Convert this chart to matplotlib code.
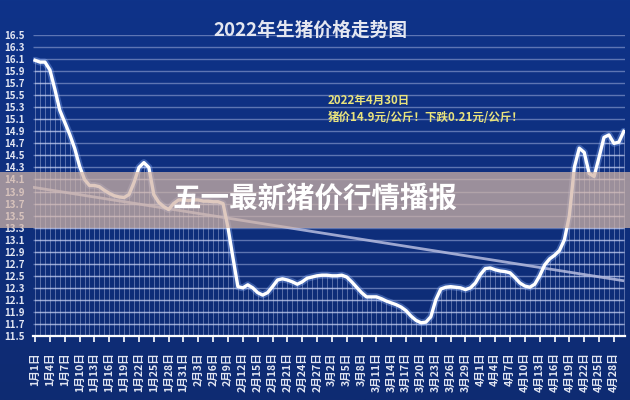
import numpy as np
import matplotlib
matplotlib.use('Agg')
from matplotlib import pyplot as plt
from matplotlib.patches import Rectangle

plt.rcParams['font.family'] = ['Noto Sans CJK SC', 'DejaVu Sans']

# 生猪价格 元/公斤, 1月1日 ~ 4月30日 (每日)
prices = [16.08, 16.05, 16.05, 15.92, 15.60, 15.25, 15.05, 14.85, 14.62, 14.32,
          14.10, 14.00, 14.00, 13.98, 13.92, 13.87, 13.83, 13.81, 13.80, 13.85,
          14.05, 14.30, 14.38, 14.30, 13.85, 13.72, 13.65, 13.60, 13.70, 13.76,
          13.76, 13.75, 13.76, 13.76, 13.74, 13.74, 13.73, 13.73, 13.70, 13.30,
          12.80, 12.32, 12.30, 12.35, 12.30, 12.22, 12.18, 12.22, 12.32, 12.43,
          12.45, 12.43, 12.40, 12.36, 12.40, 12.46, 12.48, 12.50, 12.51, 12.51,
          12.50, 12.50, 12.51, 12.48, 12.40, 12.31, 12.22, 12.15, 12.15, 12.15,
          12.12, 12.08, 12.05, 12.02, 11.98, 11.92, 11.83, 11.76, 11.72, 11.73,
          11.82, 12.10, 12.28, 12.31, 12.32, 12.31, 12.30, 12.27, 12.30, 12.38,
          12.52, 12.62, 12.63, 12.60, 12.58, 12.57, 12.55, 12.47, 12.38, 12.33,
          12.31, 12.36, 12.50, 12.68, 12.78, 12.84, 12.92, 13.10, 13.50, 14.30,
          14.62, 14.55, 14.20, 14.15, 14.47, 14.80, 14.84, 14.70, 14.72, 14.90]

date_labels = ['1月1日', '1月4日', '1月7日', '1月10日', '1月13日', '1月16日', '1月19日',
               '1月22日', '1月25日', '1月28日', '1月31日', '2月3日', '2月6日', '2月9日',
               '2月12日', '2月15日', '2月18日', '2月21日', '2月24日', '2月27日', '3月2日',
               '3月5日', '3月8日', '3月11日', '3月14日', '3月17日', '3月20日', '3月23日',
               '3月26日', '3月29日', '4月1日', '4月4日', '4月7日', '4月10日', '4月13日',
               '4月16日', '4月19日', '4月22日', '4月25日', '4月28日']

trend_days = [-0.4, 118.8]
trend_vals = [13.97, 12.42]

title = '2022年生猪价格走势图'
note_1 = '2022年4月30日'
note_2 = '猪价14.9元/公斤！下跌0.21元/公斤！'
banner = '五一最新猪价行情播报'

days = np.arange(len(prices))
tick_pos = np.arange(0, 3 * len(date_labels), 3)
y_ticks = np.round(np.arange(11.5, 16.51, 0.2), 1)

fig = plt.figure(figsize=(6.3, 4.0), dpi=100)

# ---- fondo degradado azul
bg = fig.add_axes([0, 0, 1, 1], zorder=-10)
grad = np.linspace(0, 1, 256).reshape(-1, 1)
cmap = matplotlib.colors.LinearSegmentedColormap.from_list('bg', ['#0e3389', '#0f2b72'])
bg.imshow(grad, aspect='auto', cmap=cmap, extent=[0, 1, 0, 1])
bg.axis('off')

ax = fig.add_axes([0.0525, 0.16, 0.94, 0.7525])
ax.set_facecolor('none')
ax.set_xlim(-0.4, 119.3)
ax.set_ylim(11.5, 16.5)

# lineas horizontales
ax.hlines(y_ticks[1:], -0.4, 119.3, color='#7f93c8', lw=1.0, alpha=0.7, zorder=1)

# zona bajo la curva: lineas verticales diarias + horizontales mas claras
poly = ax.fill_between(days, prices, 11.5, color='none', lw=0)
ax.vlines(days, 11.5, prices, color='#c8d2f0', lw=0.7, alpha=0.4, zorder=2)
hl = ax.hlines(y_ticks[1:], -0.4, 119.3, color='#c4cef0', lw=1.0, alpha=0.6, zorder=2)
hl.set_clip_path(poly.get_paths()[0], ax.transData)

# tendencia
ax.plot(trend_days, trend_vals, color='#b7bde0', lw=2.0, alpha=0.85, zorder=3)

# curva de precios
ax.plot(days, prices, color='#8fb4ff', lw=5, alpha=0.35, zorder=4, solid_capstyle='round')
ax.plot(days, prices, color='white', lw=2.4, zorder=5, solid_joinstyle='round')

for s in ['top', 'right', 'left']:
    ax.spines[s].set_visible(False)
ax.spines['bottom'].set_color('white')
ax.spines['bottom'].set_linewidth(1.6)

ax.set_yticks(y_ticks)
ax.set_yticklabels([f'{v:.1f}' for v in y_ticks])
ax.tick_params(axis='y', length=0, pad=6, labelsize=7, labelcolor='#e2e6f2')
ax.set_xticks(tick_pos)
ax.set_xticklabels(date_labels, rotation=90)
ax.tick_params(axis='x', length=4, width=1.2, color='white', pad=8,
               labelsize=7.6, labelcolor='#e2e6f2')
for lab in ax.get_xticklabels() + ax.get_yticklabels():
    lab.set_fontweight('bold')

fig.text(0.493, 0.925, title, ha='center', va='center', fontsize=13.5,
         fontweight='bold', color='#e4e7f0')
fig.text(0.52, 0.75, note_1, ha='left', va='center', fontsize=8.3,
         fontweight='bold', color='#e9e37c')
fig.text(0.52, 0.707, note_2, ha='left', va='center', fontsize=8.3,
         fontweight='bold', color='#e9e37c')

# franja superpuesta
fig.patches.append(Rectangle((0, 0.43), 1, 0.14, transform=fig.transFigure,
                             facecolor='#d3b5a7', alpha=0.72, zorder=20, lw=0))
fig.text(0.5, 0.503, banner, ha='center', va='center', fontsize=20.5,
         fontweight='bold', color='white', zorder=21)

fig.savefig('out.png', dpi=100)
